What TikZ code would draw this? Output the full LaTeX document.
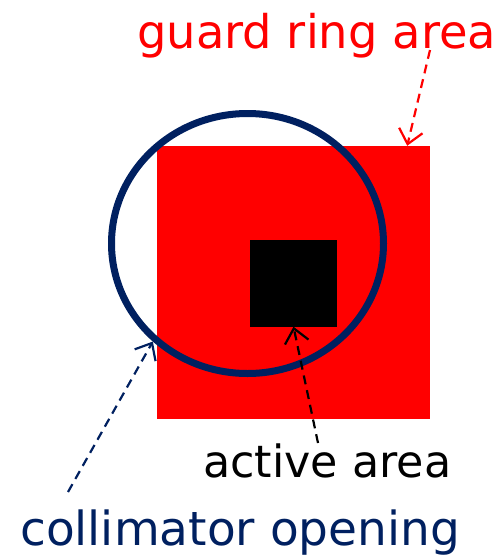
\documentclass[tikz,border=0pt]{standalone}
\usepackage{fontspec}
\setmainfont{DejaVu Sans}
\usetikzlibrary{arrows.meta, shapes.geometric}
\definecolor{collimblue}{HTML}{002060}

\begin{document}
\begin{tikzpicture}[x=1pt,y=-1pt,
  lbl/.style={inner sep=0pt,anchor=base west,font=\fontsize{#1}{56}\selectfont},
  lbl/.default=47,
  sq/.style={rectangle,inner sep=0pt,draw=none},
  pt/.style={dash pattern=on 9pt off 6pt,line width=2.2pt,-{Straight Barb[length=14pt,width=24pt,line width=2.2pt]}}
]
  \useasboundingbox (0,0) rectangle (500,557);

  \node[sq,fill=red,minimum width=273pt,minimum height=273pt](ring) at (293.5,282.5){};
  \node[sq,fill=black,minimum width=87pt,minimum height=87pt](det) at (293.5,283){};
  \node[ellipse,draw=collimblue,line width=7pt,inner sep=0pt,
        minimum width=272pt,minimum height=260pt](aperture) at (247.5,243.5){};

  \node[lbl=46.4,text=red](guard) at (137,48){guard ring area};
  \node[lbl=44.4,text=black](active) at (203,477){active area};
  \node[lbl,text=collimblue](collim) at (20,545){collimator opening};

  \coordinate (gfrom) at (430,50);
  \coordinate (afrom) at (318,443);
  \coordinate (cfrom) at (68,492);

  \draw[pt,red](gfrom)--([xshift=-23pt]ring.north east);
  \draw[pt,black](afrom)--(det.south);
  \draw[pt,collimblue](cfrom)--(aperture.226);
\end{tikzpicture}
\end{document}
